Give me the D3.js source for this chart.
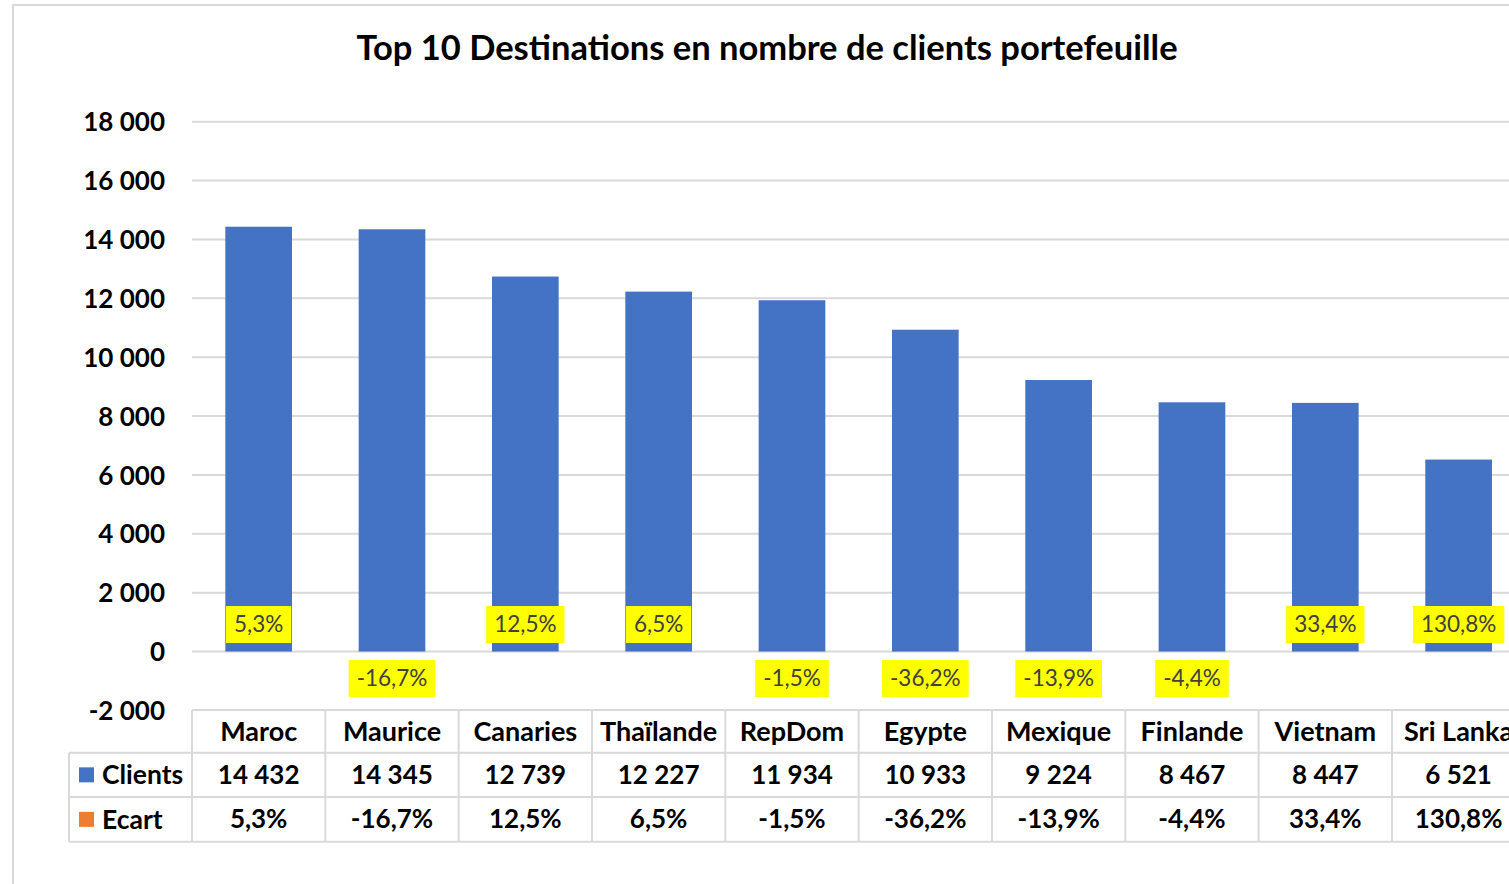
<!DOCTYPE html>
<html><head><meta charset="utf-8">
<script src="https://cdn.jsdelivr.net/npm/d3@7"></script>
<style>
html,body{margin:0;padding:0;background:#fff;overflow:hidden;}
svg{display:block;font-family:Lato,"Open Sans",sans-serif;}
</style></head><body>
<svg id="c" width="1509" height="884"></svg>
<script>
const title = "Top 10 Destinations en nombre de clients portefeuille";
const categories = ["Maroc","Maurice","Canaries","Thaïlande","RepDom","Egypte","Mexique","Finlande","Vietnam","Sri Lanka"];
const clients = [14432,14345,12739,12227,11934,10933,9224,8467,8447,6521];
const ecart = [5.3,-16.7,12.5,6.5,-1.5,-36.2,-13.9,-4.4,33.4,130.8];
const seriesNames = ["Clients","Ecart"];
const yTicks = [-2000,0,2000,4000,6000,8000,10000,12000,14000,16000,18000];

const fr = d3.formatLocale({decimal:",",thousands:"\u00a0",grouping:[3],currency:["","€"],minus:"-"});
const fmtN = fr.format(",d");
const fmtP = v => fr.format(".1f")(v) + "%";

const svg = d3.select("#c");
const colors = {Clients:"#4472C4", Ecart:"#ED7D31"};
const grid = "#D9D9D9";

// chart frame
svg.append("path").attr("d","M13,884 V5 H1509").attr("fill","none").attr("stroke",grid).attr("stroke-width",2);

// title
svg.append("text").attr("x",767).attr("y",60).attr("text-anchor","middle")
  .attr("font-size",34.5).attr("font-weight",700).attr("fill","#000").text(title);

const x = d3.scaleBand().domain(categories).range([192,1525.3]).paddingInner(0.5).paddingOuter(0.25);
const xc = d3.scaleBand().domain(categories).range([192,1525.3]).padding(0);
const y = d3.scaleLinear().domain([-2000,18000]).range([710.4,121.7]);

// gridlines
svg.append("g").selectAll("line").data(yTicks.filter(t=>t>-2000)).join("line")
  .attr("x1",192).attr("x2",1509).attr("y1",d=>y(d)).attr("y2",d=>y(d))
  .attr("stroke",grid).attr("stroke-width",2);

// y axis labels
const yAxis = d3.axisLeft(y).tickValues(yTicks).tickFormat(fmtN).tickSize(0).tickPadding(0);
const ga = svg.append("g").attr("transform","translate(165,0)").call(yAxis);
ga.select(".domain").remove();
ga.selectAll("text").attr("font-size",26).attr("font-weight",700).attr("fill","#000")
  .attr("font-family","Lato,'Open Sans',sans-serif").attr("dy","0.35em");

// bars
svg.append("g").selectAll("rect").data(categories).join("rect")
  .attr("x",d=>x(d)).attr("width",x.bandwidth())
  .attr("y",(d,i)=>y(clients[i])).attr("height",(d,i)=>y(0)-y(clients[i]))
  .attr("fill",colors.Clients);
// Ecart bars (percent values on same axis -> essentially flat)
svg.append("g").selectAll("rect").data(categories).join("rect")
  .attr("x",d=>x(d)).attr("width",x.bandwidth())
  .attr("y",(d,i)=>Math.min(y(ecart[i]/100),y(0))).attr("height",(d,i)=>Math.abs(y(0)-y(ecart[i]/100)))
  .attr("fill",colors.Ecart);

// data labels
const lg = svg.append("g");
categories.forEach((c,i)=>{
  const g = lg.append("g");
  const cx = x(c)+x.bandwidth()/2;
  const pos = ecart[i] >= 0;
  const h = 37;
  const top = pos ? y(ecart[i]/100) - 8.5 - h : y(ecart[i]/100) + 8.5;
  const rect = g.append("rect").attr("fill","#FFFF00");
  const t = g.append("text").attr("x",cx).attr("y",top+h/2).attr("dy","0.35em")
    .attr("text-anchor","middle").attr("font-size",22.5).attr("fill","#404040").text(fmtP(ecart[i]));
  const w = t.node().getComputedTextLength()+16;
  rect.attr("x",cx-w/2).attr("y",top).attr("width",w).attr("height",h);
});

// data table
const rowB=[710,752.7,797,841.7];
const tg = svg.append("g");
const line=(x1,y1,x2,y2)=>tg.append("line").attr("x1",x1).attr("y1",y1).attr("x2",x2).attr("y2",y2).attr("stroke",grid).attr("stroke-width",2);
line(192,rowB[0],1525,rowB[0]);
line(69,rowB[1],1525,rowB[1]);
line(69,rowB[2],1525,rowB[2]);
line(69,rowB[3],1525,rowB[3]);
line(69,rowB[1],69,rowB[3]);
categories.forEach(c=>line(xc(c),rowB[0],xc(c),rowB[3]));
line(1525.3,rowB[0],1525.3,rowB[3]);

const cellText=(cx,cy,txt,anchor,fs)=>tg.append("text").attr("x",cx).attr("y",cy).attr("dy","0.35em")
  .attr("text-anchor",anchor||"middle").attr("font-size",fs||26).attr("font-weight",700).attr("fill","#000").text(txt);
const rowMid=[(rowB[0]+rowB[1])/2,(rowB[1]+rowB[2])/2,(rowB[2]+rowB[3])/2];
categories.forEach((c,i)=>{
  const cx = xc(c)+xc.bandwidth()/2;
  cellText(cx,rowMid[0],c,"middle",27);
  cellText(cx,rowMid[1],fmtN(clients[i]));
  cellText(cx,rowMid[2],fmtP(ecart[i]));
});
seriesNames.forEach((s,k)=>{
  const cy=rowMid[k+1];
  tg.append("rect").attr("x",79).attr("y",cy-7.5).attr("width",15).attr("height",15).attr("fill",colors[s]);
  cellText(102,cy,s,"start",26.5);
});
</script></body></html>
